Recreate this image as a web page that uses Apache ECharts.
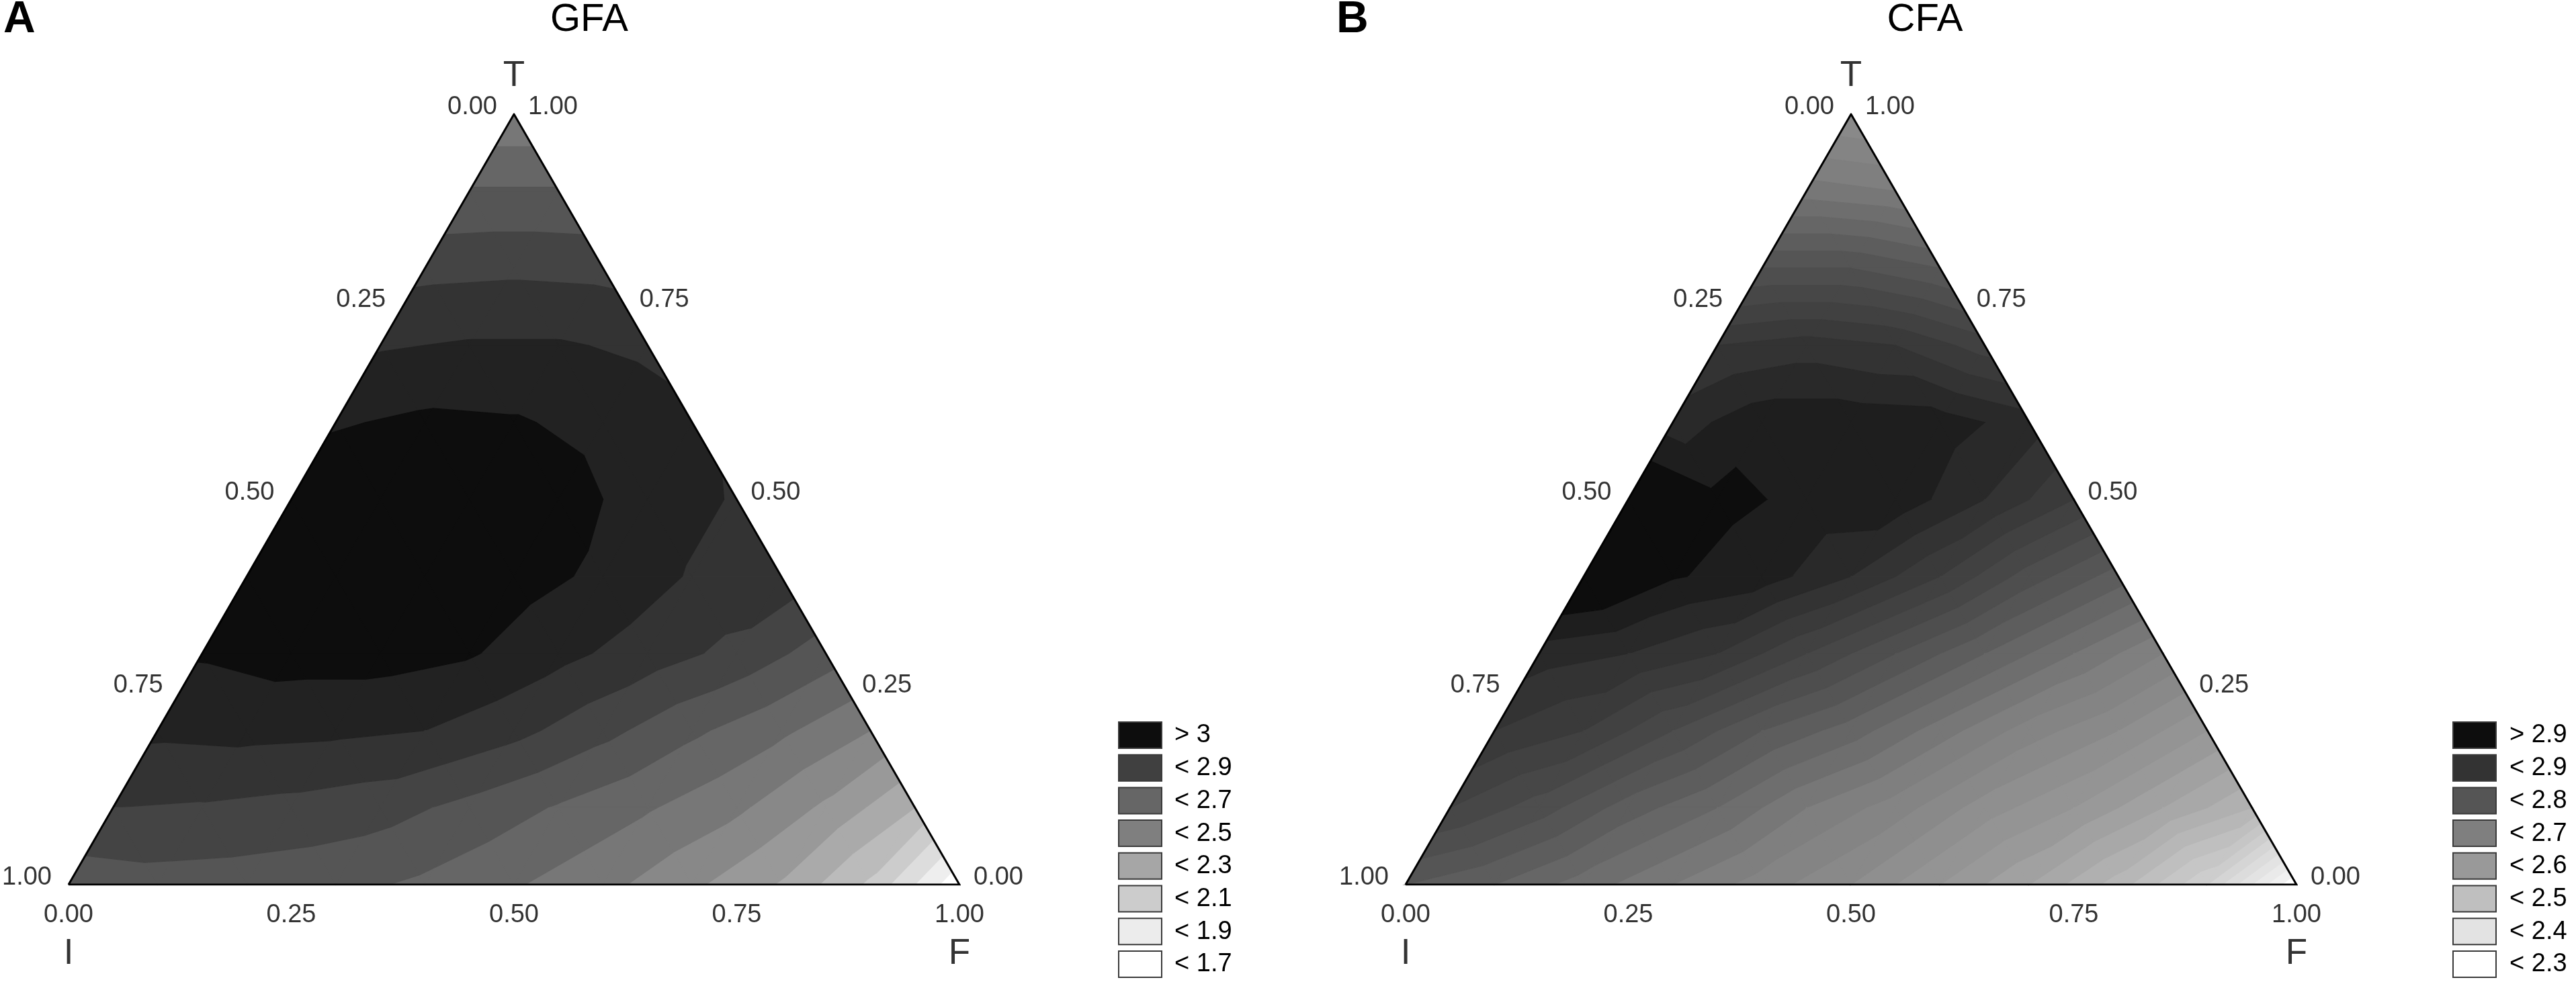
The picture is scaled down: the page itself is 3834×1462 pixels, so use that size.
<!DOCTYPE html>
<html>
<head>
<meta charset="utf-8">
<title>GFA / CFA ternary contours</title>
<script src="https://cdn.jsdelivr.net/npm/echarts@6.0.0/dist/echarts.min.js"></script>
<style>
html, body { margin: 0; padding: 0; background: #fff; }
#main { width: 3834px; height: 1462px; }
</style>
</head>
<body>
<div id="main"></div>
<script>
// grid values, rows from T = 1.0 (apex) down to T = 0.0,
// columns F = 0, 0.1, 0.2 ... (I = 1 - T - F)
const gfaRows = [
	[2.42],
	[2.61, 2.61],
	[2.77, 2.78, 2.77],
	[2.89, 2.91, 2.91, 2.88],
	[2.99, 3.02, 3.01, 2.97, 2.92],
	[3.06, 3.09, 3.09, 3.04, 2.96, 2.89],
	[3.05, 3.08, 3.08, 3.04, 2.98, 2.89, 2.86],
	[3.01, 3.04, 3.04, 3.01, 2.93, 2.85, 2.77, 2.65],
	[2.92, 2.93, 2.92, 2.90, 2.83, 2.73, 2.62, 2.52, 2.40],
	[2.80, 2.79, 2.77, 2.74, 2.67, 2.59, 2.51, 2.42, 2.28, 2.10],
	[2.64, 2.66, 2.65, 2.63, 2.58, 2.51, 2.43, 2.32, 2.19, 1.98, 1.62]
];
const cfaRows = [
	[2.60],
	[2.67, 2.66],
	[2.76, 2.76, 2.74],
	[2.84, 2.85, 2.84, 2.81],
	[2.87, 2.893, 2.893, 2.89, 2.87],
	[2.93, 2.905, 2.896, 2.893, 2.86, 2.82],
	[2.93, 2.902, 2.89, 2.86, 2.82, 2.77, 2.73],
	[2.87, 2.86, 2.84, 2.80, 2.76, 2.72, 2.68, 2.64],
	[2.84, 2.82, 2.78, 2.74, 2.71, 2.67, 2.63, 2.60, 2.56],
	[2.80, 2.77, 2.73, 2.70, 2.66, 2.63, 2.59, 2.56, 2.52, 2.48],
	[2.74, 2.72, 2.69, 2.66, 2.63, 2.60, 2.56, 2.52, 2.47, 2.40, 2.28]
];

// contour levels
const gfaLevels = [1.7, 1.8, 1.9, 2.0, 2.1, 2.2, 2.3, 2.4, 2.5, 2.6, 2.7, 2.8, 2.9, 3.0];
const gfaBandColors = ['#ffffff', '#eeeeee', '#dddddd', '#cccccc', '#bbbbbb', '#aaaaaa', '#999999', '#888888',
	'#777777', '#666666', '#555555', '#444444', '#333333', '#222222', '#0d0d0d'];
const cfaLevels = [2.30, 2.32, 2.34, 2.36, 2.38, 2.40, 2.42, 2.44, 2.46, 2.48, 2.50, 2.52, 2.54, 2.56, 2.58, 2.60,
	2.62, 2.64, 2.66, 2.68, 2.70, 2.72, 2.74, 2.76, 2.78, 2.80, 2.82, 2.84, 2.86, 2.88, 2.90];

const tickValues = [0, 0.25, 0.5, 0.75, 1];
const tickLabels = ['0.00', '0.25', '0.50', '0.75', '1.00'];
const axisNames = ['T', 'I', 'F'];
const panelTitles = ['GFA', 'CFA'];
const panelLetters = ['A', 'B'];

const gfaLegendLabels = ['> 3', '< 2.9', '< 2.7', '< 2.5', '< 2.3', '< 2.1', '< 1.9', '< 1.7'];
const gfaLegendColors = ['#0d0d0d', '#404040', '#666666', '#7f7f7f', '#a6a6a6', '#cccccc', '#ececec', '#ffffff'];
const cfaLegendLabels = ['> 2.9', '< 2.9', '< 2.8', '< 2.7', '< 2.6', '< 2.5', '< 2.4', '< 2.3'];
const cfaLegendColors = ['#0d0d0d', '#333333', '#555555', '#7f7f7f', '#999999', '#bfbfbf', '#e3e3e3', '#ffffff'];

const FONT = '"Liberation Sans", Arial, Helvetica, sans-serif';

// grey ramp for the fine CFA bands
function cfaGrey(v) {
	let stops = [[2.30, 245], [2.35, 227], [2.45, 191], [2.55, 153], [2.65, 127], [2.75, 85], [2.85, 51], [2.90, 25]];
	if (v <= stops[0][0]) return 'rgb(245,245,245)';
	for (let i = 1; i < stops.length; i++) {
		if (v <= stops[i][0]) {
			let s = (v - stops[i - 1][0]) / (stops[i][0] - stops[i - 1][0]);
			let g = Math.round(stops[i - 1][1] + s * (stops[i][1] - stops[i - 1][1]));
			return 'rgb(' + g + ',' + g + ',' + g + ')';
		}
	}
	return 'rgb(25,25,25)';
}
let cfaBandColors = [];
for (let b = 0; b <= cfaLevels.length; b++) {
	if (b === 0) cfaBandColors.push('#ffffff');
	else if (b === cfaLevels.length) cfaBandColors.push('#0d0d0d');
	else cfaBandColors.push(cfaGrey((cfaLevels[b - 1] + cfaLevels[b]) / 2));
}

// ternary (T, F) -> plane coords: x = F + T/2, y = T
function lattice(rows) {
	let n = rows.length - 1;
	return rows.map((row, k) => {
		let t = (n - k) / n;
		return row.map((z, j) => ({ x: j / n + t / 2, y: t, z: z }));
	});
}

function clip(poly, lev, above) {
	let out = [];
	for (let i = 0; i < poly.length; i++) {
		let a = poly[i], b = poly[(i + 1) % poly.length];
		let ina = above ? a.z >= lev : a.z <= lev;
		let inb = above ? b.z >= lev : b.z <= lev;
		if (ina) out.push(a);
		if (ina !== inb) {
			let s = (lev - a.z) / (b.z - a.z);
			out.push({ x: a.x + s * (b.x - a.x), y: a.y + s * (b.y - a.y), z: lev });
		}
	}
	return out;
}

// filled contour bands, cell by cell
function buildBands(rows, levels, colors) {
	let p = lattice(rows);
	let tris = [];
	for (let k = 0; k < p.length - 1; k++) {
		for (let j = 0; j < p[k].length; j++) {
			tris.push([p[k][j], p[k + 1][j], p[k + 1][j + 1]]);
			if (j < p[k].length - 1) tris.push([p[k][j], p[k + 1][j + 1], p[k][j + 1]]);
		}
	}
	let out = [];
	tris.forEach(tri => {
		for (let b = 0; b <= levels.length; b++) {
			let poly = tri;
			if (b > 0) poly = clip(poly, levels[b - 1], true);
			if (poly.length >= 3 && b < levels.length) poly = clip(poly, levels[b], false);
			if (poly.length >= 3) out.push({ pts: poly.map(q => [q.x, q.y]), color: colors[b] });
		}
	});
	return out;
}

function bandSeries(bands, gi) {
	return {
		type: 'custom',
		xAxisIndex: gi,
		yAxisIndex: gi,
		silent: true,
		animation: false,
		z: 1,
		data: bands.map(b => b.pts[0]),
		renderItem: function (params, api) {
			let b = bands[params.dataIndex];
			return {
				type: 'polygon',
				shape: { points: b.pts.map(q => api.coord(q)) },
				style: { fill: b.color, stroke: b.color, lineWidth: 1.2 }
			};
		}
	};
}

function outlineSeries(gi) {
	return {
		type: 'line',
		xAxisIndex: gi,
		yAxisIndex: gi,
		silent: true,
		animation: false,
		z: 5,
		symbol: 'none',
		data: [[0, 0], [0.5, 1], [1, 0], [0, 0]],
		lineStyle: { color: '#000', width: 3, join: 'miter' }
	};
}

function labelSeries(gi) {
	let data = [];
	tickValues.forEach((v, i) => {
		// left side: I value, right side: T value, bottom: F value
		data.push({ name: tickLabels[i], value: [(1 - v) / 2, 1 - v], label: { offset: [-62, -10] } });
		data.push({ name: tickLabels[i], value: [1 - v / 2, v], label: { offset: [58, -10] } });
		data.push({ name: tickLabels[i], value: [v, 0], label: { offset: [0, 46] } });
	});
	data.push({ name: axisNames[0], value: [0.5, 1], label: { offset: [0, -57], fontSize: 53 } });
	data.push({ name: axisNames[1], value: [0, 0], label: { offset: [0, 103], fontSize: 53 } });
	data.push({ name: axisNames[2], value: [1, 0], label: { offset: [0, 103], fontSize: 53 } });
	return {
		type: 'scatter',
		xAxisIndex: gi,
		yAxisIndex: gi,
		silent: true,
		animation: false,
		z: 6,
		symbolSize: 1,
		itemStyle: { color: 'rgba(0,0,0,0)' },
		label: {
			show: true,
			position: 'inside',
			formatter: '{b}',
			color: '#000',
			fontFamily: FONT,
			fontSize: 38
		},
		data: data
	};
}

function legendGraphics(labels, colors, boxX, textX) {
	let els = [];
	labels.forEach((t, i) => {
		let y = 1075 + i * 48.7;
		els.push({
			type: 'rect',
			shape: { x: boxX, y: y, width: 64, height: 39 },
			style: { fill: colors[i], stroke: '#3a3a3a', lineWidth: 2 }
		});
		els.push({
			type: 'text',
			x: textX,
			y: y + 20,
			style: { text: t, fill: '#000', font: '38px ' + FONT, textAlign: 'left', textVerticalAlign: 'middle', align: 'left', verticalAlign: 'middle' }
		});
	});
	return els;
}

function headText(t, x, align, font) {
	return {
		type: 'text',
		x: x,
		y: 30,
		style: { text: t, fill: '#000', font: font, textAlign: align, textVerticalAlign: 'middle', align: align, verticalAlign: 'middle' }
	};
}

const gfaBands = buildBands(gfaRows, gfaLevels, gfaBandColors);
const cfaBands = buildBands(cfaRows, cfaLevels, cfaBandColors);

let chart = echarts.init(document.getElementById('main'));
let option = {
	backgroundColor: '#ffffff',
	animation: false,
	grid: [
		{ left: 102, top: 170, width: 1326, height: 1147 },
		{ left: 2092, top: 170, width: 1326, height: 1147 }
	],
	xAxis: [
		{ type: 'value', gridIndex: 0, min: 0, max: 1, show: false },
		{ type: 'value', gridIndex: 1, min: 0, max: 1, show: false }
	],
	yAxis: [
		{ type: 'value', gridIndex: 0, min: 0, max: 1, show: false },
		{ type: 'value', gridIndex: 1, min: 0, max: 1, show: false }
	],
	graphic: [].concat(
		[
			headText(panelLetters[0], 5, 'left', 'bold 66px ' + FONT),
			headText(panelLetters[1], 1989, 'left', 'bold 66px ' + FONT),
			headText(panelTitles[0], 877, 'center', '58px ' + FONT),
			headText(panelTitles[1], 2865, 'center', '58px ' + FONT)
		],
		legendGraphics(gfaLegendLabels, gfaLegendColors, 1665, 1748),
		legendGraphics(cfaLegendLabels, cfaLegendColors, 3651, 3735)
	),
	series: [
		bandSeries(gfaBands, 0),
		bandSeries(cfaBands, 1),
		outlineSeries(0),
		outlineSeries(1),
		labelSeries(0),
		labelSeries(1)
	]
};
chart.setOption(option);
</script>
</body>
</html>
